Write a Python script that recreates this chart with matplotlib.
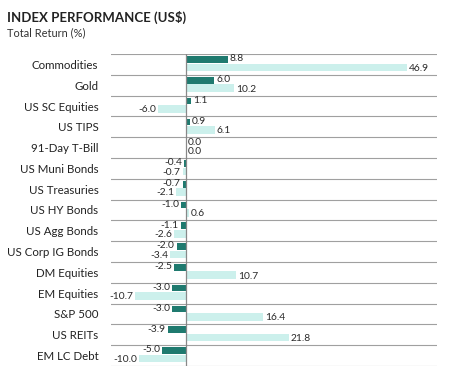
import matplotlib
matplotlib.use("Agg")
import matplotlib.pyplot as plt

categories = ["Commodities", "Gold", "US SC Equities", "US TIPS", "91-Day T-Bill",
              "US Muni Bonds", "US Treasuries", "US HY Bonds", "US Agg Bonds",
              "US Corp IG Bonds", "DM Equities", "EM Equities", "S&P 500",
              "US REITs", "EM LC Debt"]
dark_vals = [8.8, 6.0, 1.1, 0.9, 0.0, -0.4, -0.7, -1.0, -1.1, -2.0, -2.5, -3.0, -3.0, -3.9, -5.0]
light_vals = [46.9, 10.2, -6.0, 6.1, 0.0, -0.7, -2.1, 0.6, -2.6, -3.4, 10.7, -10.7, 16.4, 21.8, -10.0]

plt.rcParams['font.family'] = ['Lato', 'DejaVu Sans']
DARK = "#1f7a6f"
LIGHT = "#ccf0ec"

fig = plt.figure(figsize=(4.51, 3.76), dpi=100)
ax = fig.add_axes([0.246, 0.027, 0.723, 0.829])

n = len(categories)
dark_y = [i + 0.26 for i in range(n)]
light_y = [i + 0.64 for i in range(n)]
ax.barh(dark_y, dark_vals, height=0.32, color=DARK, zorder=3)
ax.barh(light_y, light_vals, height=0.37, color=LIGHT, zorder=3)

pad = 0.4
fs = 7.4
for y, v in zip(dark_y, dark_vals):
    ty = y - 0.03
    if v >= 0:
        ax.text(v + pad, ty, f"{v:.1f}", va="center", ha="left", fontsize=fs, color="#2a2a2a", zorder=4)
    else:
        ax.text(v - pad, ty, f"{v:.1f}", va="center", ha="right", fontsize=fs, color="#2a2a2a", zorder=4)
for y, v in zip(light_y, light_vals):
    ty = y + 0.04
    if v >= 0:
        ax.text(v + pad, ty, f"{v:.1f}", va="center", ha="left", fontsize=fs, color="#2a2a2a", zorder=4)
    else:
        ax.text(v - pad, ty, f"{v:.1f}", va="center", ha="right", fontsize=fs, color="#2a2a2a", zorder=4)

for b in range(n + 1):
    ax.axhline(b, color="#a0a0a0", linewidth=0.8, zorder=1)
ax.axvline(0, color="#888888", linewidth=0.9, zorder=5)

ax.set_xlim(-15.9, 53.2)
ax.set_ylim(n, 0)
ax.set_yticks([i + 0.5 for i in range(n)])
ax.set_yticklabels(categories, fontsize=8.3, color="#222222")
ax.tick_params(axis="y", length=0, pad=9)
ax.set_xticks([])
for s in ax.spines.values():
    s.set_visible(False)

fig.text(0.016, 0.953, "INDEX PERFORMANCE (US$)", fontsize=9.5, fontweight="bold",
         color="#222222", va="center", ha="left")
fig.text(0.016, 0.912, "Total Return (%)", fontsize=7.9, color="#333333", va="center", ha="left")

fig.savefig("out.png", dpi=100)
